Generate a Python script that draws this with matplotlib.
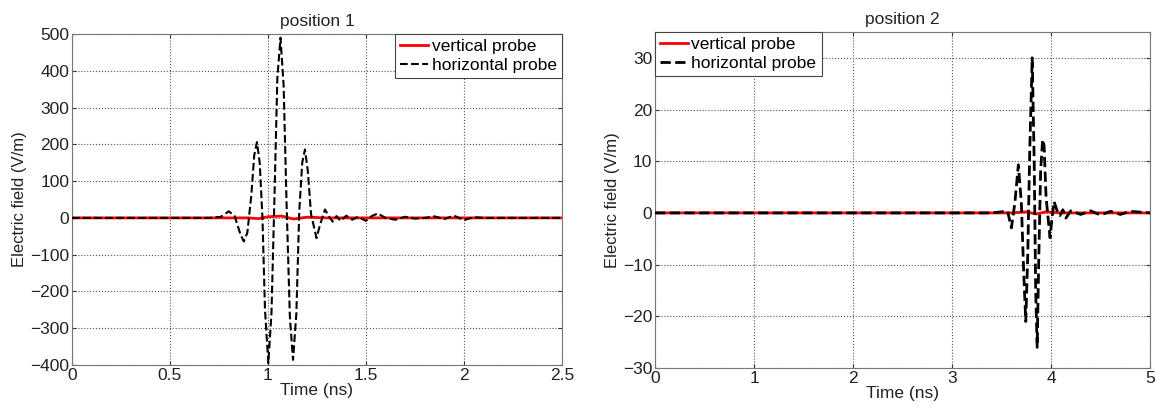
import matplotlib
matplotlib.use("Agg")
import matplotlib.pyplot as plt

# Data (time in ns, field in V/m)
t1_h = [0.0, 0.70, 0.76, 0.80, 0.83, 0.86, 0.877, 0.895, 0.915, 0.93, 0.944, 0.958,
        0.972, 0.985, 1.002, 1.018, 1.033, 1.048, 1.064, 1.080, 1.095, 1.112, 1.128,
        1.145, 1.160, 1.175, 1.189, 1.203, 1.22, 1.248, 1.265, 1.291, 1.31, 1.33,
        1.35, 1.37, 1.40, 1.43, 1.46, 1.50, 1.53, 1.56, 1.60, 1.65, 1.70, 1.75,
        1.80, 1.85, 1.90, 1.95, 2.00, 2.05, 2.10, 2.20, 2.50]
e1_h = [0, 0, 3, 18, 5, -45, -64, -40, 60, 170, 206, 150,
        0, -250, -395, -260, 50, 380, 490, 360, 40, -270, -386,
        -260, 20, 150, 186, 130, 10, -55, -20, 23, 5, -10,
        5, -8, 6, -5, 3, -8, 5, 12, 0, -5, 3, -2,
        0, 4, -3, 6, -6, 2, 0, 0, 0]

t1_v = [0.0, 0.90, 0.95, 1.00, 1.07, 1.13, 1.20, 1.30, 2.50]
e1_v = [0, 0, -2, 3, 5, -3, 2, 0, 0]

t2_h = [0.0, 3.40, 3.50, 3.56, 3.60, 3.635, 3.67, 3.70, 3.725, 3.745, 3.765, 3.785,
        3.81, 3.83, 3.845, 3.86, 3.875, 3.895, 3.915, 3.93, 3.95, 3.99, 4.01, 4.03,
        4.06, 4.09, 4.12, 4.15, 4.20, 4.30, 4.40, 4.50, 4.60, 4.70, 4.80, 5.00]
e2_h = [0, 0, 0.2, 0.4, -2.9, 2, 9.3, 2, -12, -21, -8, 12,
        30, 10, -15, -26, -10, 8, 14.2, 13, 3, -4.8, -1, 2.2,
        0.5, -0.5, 0.6, -1, 0.4, -0.3, 0.4, -0.4, 0.3, -0.3, 0.3, 0]

t2_v = [0.0, 3.6, 3.75, 3.85, 3.95, 4.1, 5.0]
e2_v = [0, 0, 0.2, -0.2, 0.2, 0, 0]

plt.rcParams['font.family'] = ['Liberation Sans', 'DejaVu Sans']
FS = 12.5

fig = plt.figure(figsize=(11.55, 4.13), dpi=100)
ax1 = fig.add_axes([0.0623, 0.1162, 0.4242, 0.8015])
ax2 = fig.add_axes([0.5671, 0.1090, 0.4286, 0.8136])


def style_axis(ax, xlim, ylim, xticks, yticks):
    ax.set_xlim(*xlim)
    ax.set_ylim(*ylim)
    ax.set_xticks(xticks)
    ax.set_yticks(yticks)
    ax.grid(True, linestyle=':', color='#555555', linewidth=0.8)
    ax.tick_params(direction='in', top=True, right=True, length=3, pad=2,
                   colors='#333333', labelcolor='#222222', labelsize=FS)
    for s in ax.spines.values():
        s.set_color('#777777')
    ax.set_xlabel('Time (ns)', fontsize=FS, labelpad=0, color='#222222')
    ax.set_ylabel('Electric field (V/m)', fontsize=12, labelpad=2, color='#222222')


def add_legend(ax, loc):
    leg = ax.legend(loc=loc, fontsize=FS, handlelength=1.6,
                    handletextpad=0.2, borderpad=0.3, labelspacing=0.2,
                    borderaxespad=0.0, fancybox=False, framealpha=1)
    leg.get_frame().set_edgecolor('#444444')
    leg.get_frame().set_linewidth(0.8)


ax1.plot(t1_v, e1_v, color='red', linewidth=2, label='vertical probe', zorder=3)
ax1.plot(t1_h, e1_h, color='black', linestyle='--', linewidth=1.5,
         label='horizontal probe', zorder=4)
style_axis(ax1, (0, 2.5), (-400, 500), [0, 0.5, 1, 1.5, 2, 2.5],
           list(range(-400, 501, 100)))
ax1.set_xticklabels(['0', '0.5', '1', '1.5', '2', '2.5'])
ax1.set_title('position 1', fontsize=FS, pad=6, color='#222222')
add_legend(ax1, 'upper right')

ax2.plot(t2_v, e2_v, color='red', linewidth=2, label='vertical probe', zorder=3)
ax2.plot(t2_h, e2_h, color='black', linestyle='--', linewidth=2,
         label='horizontal probe', zorder=4)
style_axis(ax2, (0, 5), (-30, 35), [0, 1, 2, 3, 4, 5],
           [-30, -20, -10, 0, 10, 20, 30])
ax2.set_title('position 2', fontsize=FS, pad=6, color='#222222')
add_legend(ax2, 'upper left')

fig.savefig('out.png', dpi=100)
